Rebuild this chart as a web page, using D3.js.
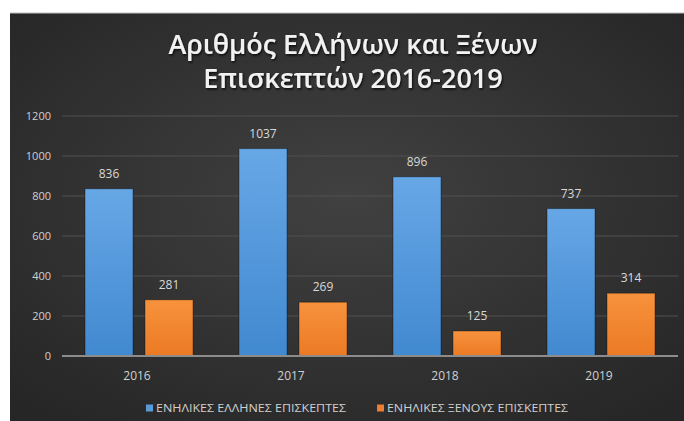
<!DOCTYPE html>
<html>
<head>
<meta charset="utf-8">
<script src="https://cdn.jsdelivr.net/npm/d3@7"></script>
<style>
  html, body { margin: 0; padding: 0; background: #ffffff; }
  svg { display: block; }
</style>
</head>
<body>
<svg id="chart" width="684" height="421"></svg>
<script>
// Visitor counts per year
const years = ["2016", "2017", "2018", "2019"];
const seriesNames = ["ΕΝΗΛΙΚΕΣ ΕΛΛΗΝΕΣ ΕΠΙΣΚΕΠΤΕΣ", "ΕΝΗΛΙΚΕΣ ΞΕΝΟΥΣ ΕΠΙΣΚΕΠΤΕΣ"];
const greekVisitors = [836, 1037, 896, 737];
const foreignVisitors = [281, 269, 125, 314];
const yTicks = [0, 200, 400, 600, 800, 1000, 1200];
const titleLines = ["Αριθμός Ελλήνων και Ξένων", "Επισκεπτών 2016-2019"];

const seriesValues = [greekVisitors, foreignVisitors];
const seriesKeys = ["greek", "foreign"];

const svg = d3.select("#chart");
const W = 684, H = 421;
const font = "'Open Sans', 'Noto Sans', sans-serif";

const defs = svg.append("defs");
const bg = defs.append("radialGradient").attr("id", "bg")
  .attr("cx", "50%").attr("cy", "45%").attr("r", "70%");
bg.append("stop").attr("offset", "0%").attr("stop-color", "#414141");
bg.append("stop").attr("offset", "100%").attr("stop-color", "#262626");

const gBlue = defs.append("linearGradient").attr("id", "gblue")
  .attr("x1", 0).attr("y1", 0).attr("x2", 0).attr("y2", 1);
gBlue.append("stop").attr("offset", "0%").attr("stop-color", "#67a7e6");
gBlue.append("stop").attr("offset", "100%").attr("stop-color", "#4189d0");

const gOrange = defs.append("linearGradient").attr("id", "gorange")
  .attr("x1", 0).attr("y1", 0).attr("x2", 0).attr("y2", 1);
gOrange.append("stop").attr("offset", "0%").attr("stop-color", "#f7923c");
gOrange.append("stop").attr("offset", "100%").attr("stop-color", "#ec7a25");

const shadow = defs.append("filter").attr("id", "tshadow")
  .attr("x", "-10%").attr("y", "-20%").attr("width", "120%").attr("height", "150%");
shadow.append("feDropShadow").attr("dx", 1).attr("dy", 1.5)
  .attr("stdDeviation", 1.2).attr("flood-color", "#000").attr("flood-opacity", 0.8);

const fills = { greek: "url(#gblue)", foreign: "url(#gorange)" };
const legendColors = { greek: "#5b9bd5", foreign: "#ed7d31" };

// Chart area background
svg.append("rect").attr("x", 10).attr("y", 13).attr("width", W - 10).attr("height", H - 13)
  .attr("fill", "url(#bg)");
svg.append("line").attr("x1", 10).attr("x2", W).attr("y1", 13).attr("y2", 13)
  .attr("stroke", "#bfbfbf").attr("stroke-width", 1);

// Title
svg.append("g").attr("filter", "url(#tshadow)")
  .selectAll("text").data(titleLines).join("text")
  .attr("x", 353).attr("y", (d, i) => 54 + i * 34)
  .attr("text-anchor", "middle")
  .attr("font-family", font).attr("font-size", 27).attr("font-weight", 600)
  .attr("fill", "#f2f2f2")
  .text(d => d);

// Scales
const x = d3.scaleBand().domain(years).range([62, 678]);
const y = d3.scaleLinear().domain([0, 1200]).range([356, 116]);
const band = x.bandwidth();
const barW = 48, gap = 12;
const groupW = barW * 2 + gap;

// Gridlines
svg.append("g").selectAll("line").data(yTicks.filter(t => t > 0)).join("line")
  .attr("x1", 62).attr("x2", 678)
  .attr("y1", d => y(d)).attr("y2", d => y(d))
  .attr("stroke", "#505050").attr("stroke-width", 1);

// Y axis labels
const yAxis = d3.axisLeft(y).tickValues(yTicks).tickSize(0).tickPadding(0).tickFormat(d3.format("d"));
const yg = svg.append("g").attr("transform", "translate(51,0)").call(yAxis);
yg.select(".domain").remove();
yg.selectAll("text").attr("font-family", font).attr("font-size", 11)
  .attr("fill", "#d0d0d0").attr("dy", "0.35em");

// Bars
const groups = svg.append("g").selectAll("g").data(years).join("g")
  .attr("transform", d => `translate(${x(d) + (band - groupW) / 2},0)`);

seriesKeys.forEach((key, si) => {
  groups.append("rect")
    .attr("x", si * (barW + gap))
    .attr("y", (d, i) => y(seriesValues[si][i]))
    .attr("width", barW)
    .attr("height", (d, i) => y(0) - y(seriesValues[si][i]))
    .attr("fill", fills[key])
    .attr("stroke", "rgba(0,0,0,0.35)").attr("stroke-width", 1);
  groups.append("text")
    .attr("x", si * (barW + gap) + barW / 2)
    .attr("y", (d, i) => y(seriesValues[si][i]) - 11)
    .attr("text-anchor", "middle")
    .attr("font-family", font).attr("font-size", 12).attr("fill", "#d9d9d9")
    .text((d, i) => seriesValues[si][i]);
});

// Baseline
svg.append("line").attr("x1", 62).attr("x2", 678).attr("y1", y(0)).attr("y2", y(0))
  .attr("stroke", "#8c8c8c").attr("stroke-width", 2);

// X axis labels
const xAxis = d3.axisBottom(x).tickSize(0).tickPadding(0);
const xg = svg.append("g").attr("transform", `translate(-2,${y(0) + 20})`).call(xAxis);
xg.select(".domain").remove();
xg.selectAll("text").attr("font-family", font).attr("font-size", 12)
  .attr("fill", "#d0d0d0").attr("dy", "0.35em");

// Legend
const legendItems = [
  { key: "greek", name: seriesNames[0], x: 146, len: 190 },
  { key: "foreign", name: seriesNames[1], x: 377, len: 181 }
];
const lg = svg.append("g").selectAll("g").data(legendItems).join("g")
  .attr("transform", d => `translate(${d.x},408)`);
lg.append("rect").attr("x", 0).attr("y", -3.5).attr("width", 7).attr("height", 7)
  .attr("fill", d => legendColors[d.key]);
lg.append("text").attr("x", 10).attr("y", 0).attr("dy", "0.35em")
  .attr("font-family", font).attr("font-size", 11).attr("fill", "#d0d0d0")
  .attr("textLength", d => d.len).attr("lengthAdjust", "spacingAndGlyphs")
  .text(d => d.name);
</script>
</body>
</html>
